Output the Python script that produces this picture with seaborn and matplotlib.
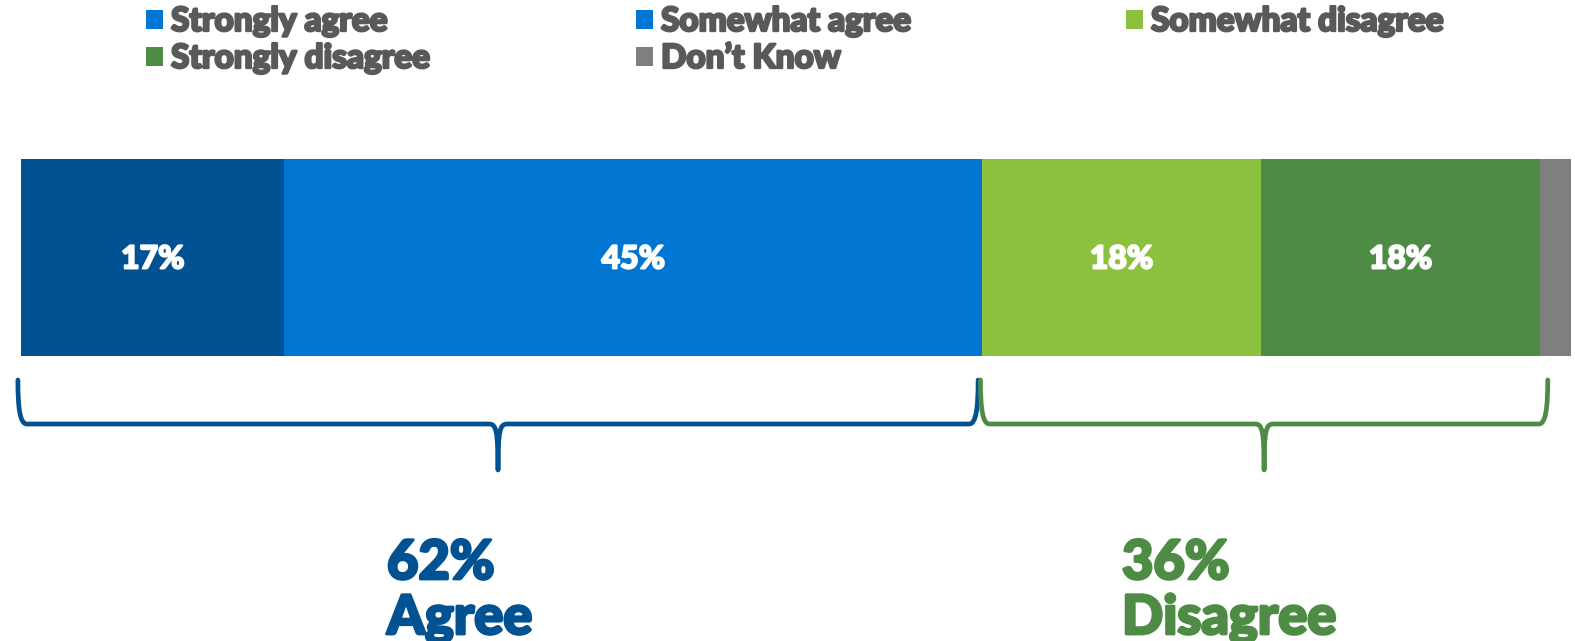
import matplotlib
matplotlib.use("Agg")
import matplotlib.pyplot as plt
import matplotlib.patheffects as pe
import seaborn as sns
import pandas as pd
import numpy as np
from matplotlib.patches import Patch, PathPatch
from matplotlib.path import Path

categories = ["Strongly agree", "Somewhat agree", "Somewhat disagree", "Strongly disagree", "Don\u2019t Know"]
values = [17, 45, 18, 18, 2]
seg_colors = ["#005293", "#0075D2", "#8BC13F", "#4E8C45", "#7F7F7F"]
legend_colors = ["#0075D2", "#0075D2", "#8BC13F", "#4E8C45", "#7F7F7F"]
group_labels = ["Agree", "Disagree"]
group_values = [62, 36]
group_colors = ["#005293", "#4E8C45"]

sns.set_theme(style="white")
plt.rcParams["font.family"] = ["Lato", "DejaVu Sans"]

W, H = 1575, 641
fig = plt.figure(figsize=(W / 100, H / 100), dpi=100)
ax = fig.add_axes([0, 0, 1, 1])

# pixel geometry helpers
x0px, x100px = 21, 1571
ppu = (x100px - x0px) / 100.0
bar_top, bar_bot = 159, 356
bar_w = 0.8
upx = (bar_bot - bar_top) / bar_w
yc = (bar_top + bar_bot) / 2

def py(p):
    return (p - yc) / upx

def heavy(color, w=1.6):
    return [pe.withStroke(linewidth=w, foreground=color)]

cum = np.cumsum(values)
for i in range(len(values) - 1, -1, -1):
    sns.barplot(x=[cum[i]], y=[""], color=seg_colors[i], saturation=1, width=bar_w,
                orient="h", ax=ax, linewidth=0)

ax.set_xlim(-x0px / ppu, (W - x0px) / ppu)
ax.set_ylim(py(H), py(0))
ax.axis("off")

starts = cum - np.array(values)
for s, v in zip(starts, values):
    if v >= 5:
        ax.text(s + v / 2, py(259), f"{v}%", ha="center", va="center", color="white",
                fontsize=23, fontweight="black", path_effects=heavy("white", 1.4))

# braces
def brace(a, b, color):
    xa = x0px + a * ppu
    xb = x0px + b * ppu
    xm = (xa + xb) / 2
    ytop, yh, ytip = 380, 424, 470
    pts = [(xa, ytop), (xa, 408), (xa + 2, yh), (xa + 9, yh), (xm - 9, yh),
           (xm - 2, yh), (xm, 430), (xm, ytip),
           (xm, 430), (xm + 2, yh), (xm + 9, yh), (xb - 9, yh),
           (xb - 2, yh), (xb, 408), (xb, ytop)]
    codes = [Path.MOVETO, Path.CURVE4, Path.CURVE4, Path.CURVE4, Path.LINETO,
             Path.CURVE4, Path.CURVE4, Path.CURVE4,
             Path.CURVE4, Path.CURVE4, Path.CURVE4, Path.LINETO,
             Path.CURVE4, Path.CURVE4, Path.CURVE4]
    verts = [((x - x0px) / ppu, py(y)) for x, y in pts]
    ax.add_patch(PathPatch(Path(verts, codes), fill=False, edgecolor=color, lw=3.4,
                           capstyle="round", joinstyle="round"))

brace(-0.2, group_values[0] - 0.25, group_colors[0])
brace(group_values[0] - 0.1, group_values[0] + group_values[1] + 0.5, group_colors[1])

label_x = [387, 1122]
for lx, lab, v, c in zip(label_x, group_labels, group_values, group_colors):
    ax.text((lx - x0px) / ppu, py(579), f"{v}%", ha="left", va="baseline", color=c,
            fontsize=39, fontweight="black", path_effects=heavy(c, 2.0))
    ax.text((lx - x0px) / ppu, py(634), lab, ha="left", va="baseline", color=c,
            fontsize=39, fontweight="black", path_effects=heavy(c, 2.0))

# legends (three columns)
cols = [[0, 3], [1, 4], [2]]
col_x = [146, 636, 1126]
for cx, idxs in zip(col_x, cols):
    handles = [Patch(facecolor=legend_colors[i], edgecolor="none") for i in idxs]
    labels = [categories[i] for i in idxs]
    leg = fig.legend(handles, labels, loc="upper left", bbox_to_anchor=(cx / W, 1 - 7 / H),
                     frameon=False, handlelength=0.5, handleheight=0.5,
                     handletextpad=0.25, labelspacing=0.24, borderpad=0, borderaxespad=0,
                     prop={"weight": "black", "size": 24})
    for t in leg.get_texts():
        t.set_color("#595959")
        t.set_path_effects(heavy("#595959", 1.7))

fig.savefig("out.png", dpi=100)
